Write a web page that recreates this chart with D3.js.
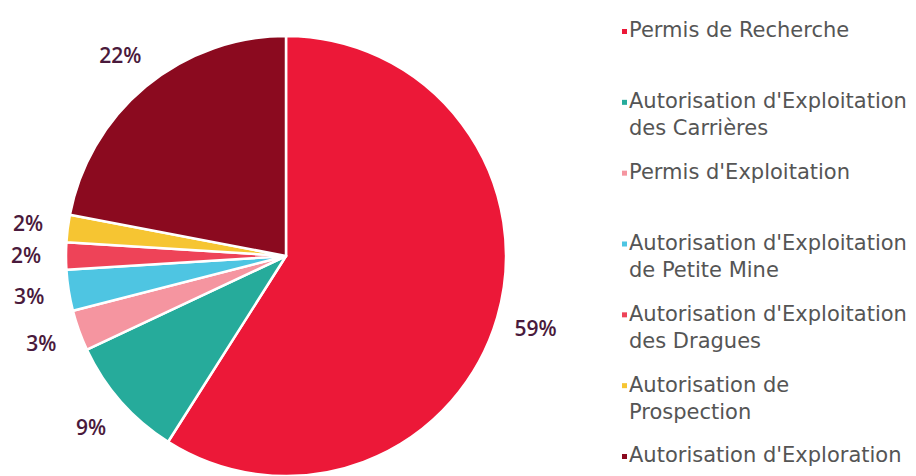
<!DOCTYPE html>
<html>
<head>
<meta charset="utf-8">
<script src="https://cdn.jsdelivr.net/npm/d3@7"></script>
<style>
  body { margin: 0; background: #fff; }
  text { font-variant-ligatures: none; }
</style>
</head>
<body>
<script>
// categories, values (%) and colours, clockwise from 12 o'clock
var categories = [
  "Permis de Recherche",
  "Autorisation d'Exploitation des Carrières",
  "Permis d'Exploitation",
  "Autorisation d'Exploitation de Petite Mine",
  "Autorisation d'Exploitation des Dragues",
  "Autorisation de Prospection",
  "Autorisation d'Exploration"
];
var values = [59, 9, 3, 3, 2, 2, 22];
var colors = ["#ec1838", "#26ab9b", "#f595a0", "#4ec5e2", "#ee4358", "#f6c532", "#8b0a1f"];
// legend text broken in lines as in the picture
var legendLines = [
  ["Permis de Recherche"],
  ["Autorisation d'Exploitation", "des Carrières"],
  ["Permis d'Exploitation"],
  ["Autorisation d'Exploitation", "de Petite Mine"],
  ["Autorisation d'Exploitation", "des Dragues"],
  ["Autorisation de", "Prospection"],
  ["Autorisation d'Exploration"]
];

var w = 916, h = 476;
var cx = 286, cy = 256, r = 220;

var svg = d3.select("body").append("svg").attr("width", w).attr("height", h);

var pie = d3.pie().sort(null).value(function(d) { return d; });
var arcs = pie(values);

var arc = d3.arc().innerRadius(0).outerRadius(r);
var labelArc = d3.arc().innerRadius(260).outerRadius(260);

var g = svg.append("g").attr("transform", "translate(" + cx + "," + cy + ")");

g.selectAll("path").data(arcs).enter().append("path")
  .attr("d", arc)
  .attr("fill", function(d, i) { return colors[i]; })
  .attr("stroke", "#fff")
  .attr("stroke-width", 2.5)
  .attr("stroke-linejoin", "round");

g.selectAll("text").data(arcs).enter().append("text")
  .text(function(d) { return d.data + "%"; })
  .attr("transform", function(d) { return "translate(" + labelArc.centroid(d) + ")"; })
  .attr("text-anchor", "middle")
  .attr("dy", "0.35em")
  .attr("font-family", "'Open Sans', sans-serif")
  .attr("font-size", 21)
  .attr("font-weight", 600)
  .attr("fill", "#4a1a3c");

// legend
var legendY = d3.scalePoint().domain(d3.range(categories.length)).range([30, 455]);
var lg = svg.append("g");

var item = lg.selectAll("g").data(legendLines).enter().append("g")
  .attr("transform", function(d, i) { return "translate(0," + legendY(i) + ")"; });

item.append("rect")
  .attr("x", 622).attr("y", -1)
  .attr("width", 5).attr("height", 5)
  .attr("fill", function(d, i) { return colors[i]; });

item.each(function(lines) {
  var t = d3.select(this).append("text")
    .attr("font-family", "'DejaVu Sans', sans-serif")
    .attr("font-size", 21)
    .attr("fill", "#555");
  lines.forEach(function(line, j) {
    t.append("tspan").attr("x", 629).attr("y", j * 27).attr("dy", "0.35em").text(line);
  });
});
</script>
</body>
</html>
